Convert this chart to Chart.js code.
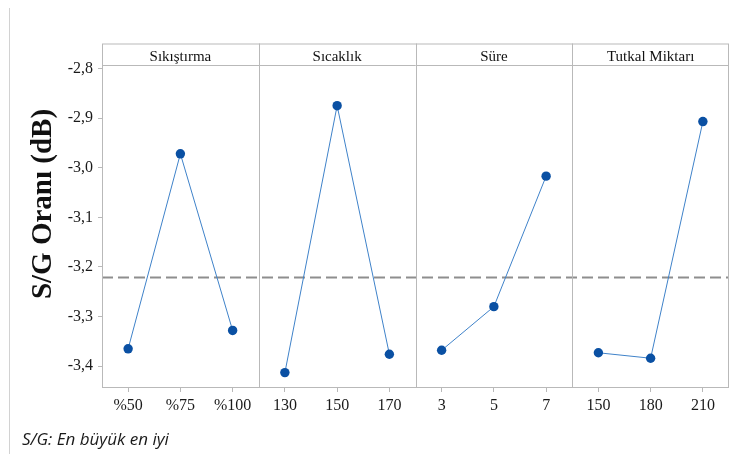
<!DOCTYPE html>
<html>
<head>
<meta charset="utf-8">
<script src="https://cdn.jsdelivr.net/npm/chart.js@4.4.1/dist/chart.umd.min.js"></script>
<style>
  html, body { margin: 0; padding: 0; background: #ffffff; }
  #wrap { width: 750px; height: 454px; position: relative; }
</style>
</head>
<body>
<div id="wrap"><canvas id="c" width="750" height="454"></canvas></div>
<script>
// Factors (panel titles) and their levels
const factors = ['Sıkıştırma', 'Sıcaklık', 'Süre', 'Tutkal Miktarı'];
const sikistirmaLevels = ['%50', '%75', '%100'];
const sicaklikLevels = ['130', '150', '170'];
const sureLevels = ['3', '5', '7'];
const tutkalLevels = ['150', '180', '210'];

// Mean S/N ratio (dB) per level
const sikistirmaSN = [-3.365, -2.972, -3.328];
const sicaklikSN = [-3.413, -2.875, -3.376];
const sureSN = [-3.368, -3.280, -3.017];
const tutkalSN = [-3.373, -3.384, -2.907];

// Y axis tick values
const yTicks = [-3.4, -3.3, -3.2, -3.1, -3.0, -2.9, -2.8];

const levelGroups = [sikistirmaLevels, sicaklikLevels, sureLevels, tutkalLevels];
const valueGroups = [sikistirmaSN, sicaklikSN, sureSN, tutkalSN];
const allLevels = levelGroups.flat();
const allValues = valueGroups.flat();
const grandMean = allValues.reduce((a, b) => a + b, 0) / allValues.length;

const SERIF = 'Liberation Serif';
Chart.defaults.font.family = SERIF;
Chart.defaults.font.size = 16;

// One dataset per factor, placed on its own three category slots
const datasets = valueGroups.map((vals, g) => {
  const data = new Array(allLevels.length).fill(null);
  vals.forEach((v, i) => { data[g * 3 + i] = v; });
  return {
    label: factors[g],
    data: data,
    borderColor: '#3f82c9',
    borderWidth: 1,
    pointRadius: 4.7,
    pointHoverRadius: 4.7,
    pointBackgroundColor: '#0a50a3',
    pointBorderColor: '#0a50a3',
    pointBorderWidth: 0,
    spanGaps: false,
    tension: 0
  };
});

const FRAME = '#b9b9b9';
const HEADER_H = 21.5;

// Panel frames, factor headers, mean reference line and page edge
const panelPlugin = {
  id: 'facetPanels',
  beforeDatasetsDraw(chart) {
    const { ctx, chartArea: a, scales: { x, y } } = chart;
    ctx.save();

    // left page rule
    ctx.strokeStyle = '#d2d2d2';
    ctx.lineWidth = 1;
    ctx.beginPath();
    ctx.moveTo(9.5, 8);
    ctx.lineTo(9.5, 454);
    ctx.stroke();

    // grand mean dashed line
    const ym = y.getPixelForValue(grandMean);
    ctx.strokeStyle = '#8e8e8e';
    ctx.lineWidth = 2;
    ctx.setLineDash([11, 5]);
    ctx.beginPath();
    ctx.moveTo(a.left, ym);
    ctx.lineTo(a.right, ym);
    ctx.stroke();
    ctx.setLineDash([]);

    // frame, panel dividers and header strip
    ctx.strokeStyle = FRAME;
    ctx.lineWidth = 1;
    const top = a.top - HEADER_H;
    ctx.strokeRect(a.left + 0.5, top + 0.5, a.right - a.left - 1, a.bottom - top - 1);
    ctx.beginPath();
    ctx.moveTo(a.left, Math.round(a.top) + 0.5);
    ctx.lineTo(a.right, Math.round(a.top) + 0.5);
    const step = x.getPixelForValue(1) - x.getPixelForValue(0);
    for (let g = 1; g < factors.length; g++) {
      const xp = Math.round(x.getPixelForValue(g * 3) - step / 2) + 0.5;
      ctx.moveTo(xp, top);
      ctx.lineTo(xp, a.bottom);
    }
    ctx.stroke();

    ctx.fillStyle = '#111111';
    ctx.font = '15px "Liberation Serif"';
    ctx.textAlign = 'center';
    ctx.textBaseline = 'alphabetic';
    factors.forEach((f, g) => {
      const cx = x.getPixelForValue(g * 3 + 1);
      ctx.fillText(f, cx, a.top - 4);
    });

    // y axis title
    ctx.save();
    ctx.translate(44, 204);
    ctx.rotate(-Math.PI / 2);
    ctx.font = 'bold 29px "Liberation Serif"';
    ctx.textBaseline = 'middle';
    ctx.fillText('S/G Oranı (dB)', 0, 0);
    ctx.restore();

    // footnote
    ctx.font = 'italic 17px "Open Sans"';
    ctx.textAlign = 'left';
    ctx.fillStyle = '#1a1a1a';
    ctx.fillText('S/G: En büyük en iyi', 22, 445, 148);

    ctx.restore();
  }
};

new Chart(document.getElementById('c'), {
  type: 'line',
  data: { labels: allLevels, datasets: datasets },
  options: {
    responsive: false,
    animation: false,
    layout: { padding: { top: 65, right: 21, bottom: 0, left: 0 } },
    plugins: { legend: { display: false }, tooltip: { enabled: false } },
    scales: {
      x: {
        type: 'category',
        offset: true,
        afterFit: s => { s.height = 66; },
        grid: { drawOnChartArea: false, drawTicks: true, tickLength: 4, color: FRAME },
        border: { display: false },
        ticks: {
          autoSkip: false, maxRotation: 0, minRotation: 0, padding: 4,
          color: '#1a1a1a', font: { family: SERIF, size: 16 }
        }
      },
      y: {
        type: 'linear',
        min: -3.444,
        max: -2.793,
        afterFit: s => { s.width = 102; },
        afterBuildTicks: s => { s.ticks = yTicks.map(v => ({ value: v })); },
        grid: { drawOnChartArea: false, drawTicks: true, tickLength: 4, color: FRAME },
        border: { display: false },
        ticks: {
          padding: 5,
          color: '#1a1a1a',
          font: { family: SERIF, size: 16 },
          callback: v => v.toFixed(1).replace('.', ',')
        }
      }
    }
  },
  plugins: [panelPlugin]
});
</script>
</body>
</html>
